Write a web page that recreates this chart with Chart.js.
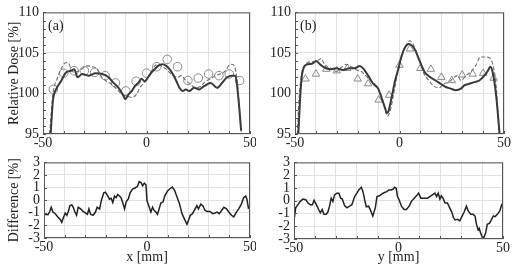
<!DOCTYPE html>
<html>
<head>
<meta charset="utf-8">
<script src="https://cdn.jsdelivr.net/npm/chart.js@4.4.1/dist/chart.umd.min.js"></script>
<style>
  body { margin: 0; background: #fff; width: 512px; height: 265px; position: relative; overflow: hidden; }
  canvas { position: absolute; }
</style>
</head>
<body>
<canvas id="ta" style="left:0;top:0" width="256" height="150"></canvas>
<canvas id="tb" style="left:256px;top:0" width="256" height="150"></canvas>
<canvas id="ba" style="left:0;top:150px" width="256" height="115"></canvas>
<canvas id="bb" style="left:256px;top:150px" width="256" height="115"></canvas>
<script>
// tick labels shown on the x axes
var xTickLabels = [-50, 0, 50];

// (a) profile along x
var aSolidX = [-46.3,-45.2,-43.7,-41.3,-38.9,-36.5,-34.9,-33.3,-31,-27.8,-24.6,-21.4,-18.3,-15.9,-13.5,-11.1,-10.3,-8.7,-7.1,-5.6,-4,-2.4,-0.8,0.8,2.4,4,5.6,7.9,9.5,11.1,12.7,14.3,15.9,17.5,19,20.6,23,25.4,27.8,31,34.1,36.5,38.9,41.3,42.9,43.7,44.9,45.7];
var aSolidY = [95,99.1,100.5,101.5,102.6,102.8,103,102,102.4,102.2,102.5,102.4,102,101.3,100.7,99.7,99.3,99.9,100.3,100.9,101.3,101.8,101.5,102,102.6,103,103.4,103.6,103.4,103,102.4,101.6,100.7,100.3,100.5,100.3,100.7,100.5,100.9,101.3,100.7,101.3,102,102.2,102.2,101.1,98,95.4];
var aDashX = [-46.8,-45.2,-42.9,-40.5,-38.9,-37.3,-36.5,-34.9,-32.5,-30.2,-28.6,-26.2,-23.8,-22.2,-19.8,-16.7,-14.3,-11.9,-9.5,-7.1,-4.8,-3.2,-0.8,1.6,4,5.6,7.1,9.5,11.1,12.7,15.1,16.7,19,21.4,23.8,26.2,28.6,31,33.3,35.7,38.1,39.7,41.3,42.9,44,45.2,46];
var aDashY = [95,99.9,102,103.4,103.8,103.6,103,102.6,102.8,103.2,103.4,103.3,103,102.2,101.6,101.1,100.5,99.9,99.7,99.5,99.9,100.7,101.5,102.4,103.4,103.6,103.4,103,102.6,102.2,102,102.2,101.6,101.1,100.7,100.9,101.5,101.8,102.2,102.4,102.8,103.4,103.6,103,101.1,97.1,95];

// measured points, both panels
var measX = [-45,-40,-35,-30,-25,-20,-15,-10,-5,0,5,10,15,20,25,30,35,40,45];
var aMeas = [100.5,102.5,102.8,102.8,102.6,102.2,101.3,100.3,101.5,102.5,103.3,104.2,103.3,101.6,101.9,102.4,102.2,102.4,101.6];
var bMeas = [101.8,102.4,103,102.8,103.1,101.8,101.2,99.2,99.8,103.5,105.5,103.1,103,102,101.6,102.3,102.4,102.5,101.9];

// (b) profile along y
var bSolidX = [-48.4,-47.6,-46.8,-45.6,-44,-41.6,-40,-37.6,-35.2,-32.7,-30.3,-27.1,-23.9,-21.5,-19,-17.4,-15,-12.6,-10.2,-8.5,-6.9,-6.1,-5.3,-3.7,-2.1,-0.5,1.1,2.7,4.4,6,7.6,9.2,10.8,12.4,14.8,17.3,19.7,22.1,24.5,26.9,29.4,31,33.4,35.8,38.2,40.6,42.3,43.4,44.7,46.3,47.9];
var bSolidY = [95,99.2,102,103.3,103.6,103.7,104,103.5,103.1,103,103.1,102.9,103.1,103.1,103.4,103.1,102.2,101.2,100.6,99.4,98.2,97.6,97.8,99.6,101.6,103.1,104.7,105.7,106.1,105.9,105.3,104.3,103.3,102.5,102,101.6,101.2,100.8,100.6,100.4,100.6,101,101.2,101.4,101.6,102.2,102.8,103.3,102.5,99.6,95];
var bDashX = [-48.9,-48.1,-46.8,-45.2,-42.4,-40,-37.6,-35.2,-32.7,-30.3,-27.9,-25.5,-23.1,-20.6,-18.2,-15.8,-13.4,-11,-8.5,-6.9,-5.8,-4.5,-2.9,-1.3,0.3,1.9,3.5,4.8,6.5,8.1,10,11.6,14,16.5,18.9,21.3,23.7,26.1,27.7,29.4,31.8,34.2,36.6,38.7,40.6,43,44.7,46.3,47.6];
var bDashY = [95,99.2,102.5,103.5,103.9,103.9,104.3,103.3,103.1,102.7,103.2,103.6,103.3,102.9,102.7,102.1,101.5,100.9,99.6,98,97.2,97.8,99.8,102,103.9,105.3,106.1,106.5,106.1,105.1,103.7,102.5,101.6,100.9,100.7,101.2,101.4,102,102.2,101.6,102.2,102.7,103.5,104.5,104.5,104.4,103.5,100.8,95];

// differences
var diffAX = [-50,-48.1,-47.3,-46.5,-45.7,-44.5,-43.3,-42.2,-41.4,-40.6,-39.7,-38.9,-38.2,-37.4,-36.5,-35.8,-35,-34.2,-33.4,-32.2,-31,-29.8,-28.9,-28.2,-27.4,-26.2,-25,-24.2,-23,-22.2,-21,-20.2,-19,-18.2,-17.4,-16.6,-15.8,-15,-14.2,-13.4,-12.6,-11.8,-10.9,-10.1,-9,-8.2,-7,-5.8,-4.6,-3.8,-2.9,-2.1,-1.3,-0.5,0,1.1,1.9,2.7,3.5,4.3,5.1,5.9,6.7,7.8,8.6,9.9,11,12.3,13.4,14.7,15.8,17,18.2,19.4,20.2,21,22.1,22.9,24.2,25,26.1,27.1,28.2,29.3,30.6,31.9,33,34.1,35.1,36.2,37.3,38.6,39.7,41,42.1,43.4,44.5,45.8,46.9,47.9,48.5,49.3];
var diffAY = [-1.12,-1.15,-0.94,-0.56,-0.94,-1.07,-1.33,-1.5,-1.76,-1.4,-1.02,-1.2,-0.89,-0.43,-0.38,-0.56,-0.94,-1.2,-0.56,-0.69,-0.89,-1.02,-1.12,-0.69,-1.12,-1.2,-0.94,-0.56,-0.69,-0.05,0.59,0.64,0.33,0.08,0.15,-0.18,0.33,0.2,0.46,0.33,0.2,-0.18,-0.69,-0.13,0.13,0.59,0.89,0.97,1.1,1.48,1.4,1.15,1.35,1.22,-0.05,-0.56,-0.94,-0.56,-0.82,-0.94,-1.12,-0.69,-0.23,-0.13,0.33,0.71,0.89,1.05,0.79,0.2,-0.31,-1.07,-1.5,-1.91,-1.58,-1.2,-1.07,-0.82,-0.43,-0.69,-0.31,-0.43,-0.82,-0.89,-0.89,-1.07,-1.02,-0.94,-1.07,-0.82,-0.56,-0.69,-0.94,-1.2,-1.33,-0.94,-0.69,-0.31,0.2,0.33,0.08,-0.69];
var diffBX = [-50,-49.2,-48.1,-47,-45.7,-44.4,-43.3,-42.2,-41.2,-40.4,-39.3,-38.2,-37.4,-36.5,-35.7,-34.6,-33.8,-33,-32.2,-31.4,-30.6,-29.5,-28.5,-27.7,-26.9,-25.8,-24.7,-23.4,-22.3,-21,-19.9,-19,-17.8,-17,-16.2,-15.4,-14.3,-13.4,-12.3,-11.1,-10.3,-9.1,-7.9,-6.7,-5.6,-4.6,-3.5,-2.7,-1.9,-1.1,-0.5,0.3,1.4,2.7,3.8,5.1,6.2,7.5,8.6,9.6,10.7,12.3,13.9,15.1,16.2,17.4,18.2,19,19.8,20.5,21.3,22.3,23.4,24.5,25.5,26.3,27.1,28.2,29.3,30.3,31.4,32.5,33.4,34.6,35.7,36.6,37.3,38.1,38.6,39.3,40.1,40.9,41.7,42.5,43.6,44.6,45.4,46.2,47.3,48.4,49.4,50];
var diffBY = [-1.58,-0.56,-0.31,-0.05,0.13,0.08,-0.18,-0.31,-0.31,0.03,-0.31,-0.69,-0.94,-0.69,-1.07,-1.07,-0.89,-0.43,0.2,-0.05,0.46,0.59,0.59,0.2,0.13,-0.38,-0.56,-0.43,-0.31,0.33,0.59,0.84,1.05,0.71,0.08,-0.48,-0.43,-0.74,-1.2,-0.56,0.33,0.38,0.54,0.64,0.71,0.84,0.84,0.89,1.05,0.97,0.33,0.08,-0.43,-0.69,-0.69,-0.43,-0.05,0.2,0.38,0.59,0.2,0.2,0.2,0.33,0.46,0.59,0.33,0.59,0.13,0.38,0.2,-0.18,-0.18,-0.56,-0.89,-1.33,-1.5,-1.45,-1.58,-1.25,-0.89,-0.43,-0.82,-1.07,-1.07,-1.2,-1.84,-2.27,-2.17,-2.53,-2.86,-2.86,-2.53,-1.84,-1.76,-1.45,-1.2,-1.25,-1.07,-0.82,-0.31,-0.18];

var font = { family: '"Liberation Serif", "Times New Roman", serif', size: 14 };
var ink = '#222';

function pts(xs, ys) {
    return xs.map(function (x, i) { return { x: x, y: ys[i] }; });
}

// closes the box, adds the inward tick marks and the panel letter
var frame = {
    id: 'frame',
    afterDraw: function (chart, args, opts) {
        var ctx = chart.ctx, a = chart.chartArea, sx = chart.scales.x, sy = chart.scales.y;
        ctx.save();
        ctx.strokeStyle = '#555';
        ctx.lineWidth = 1;
        ctx.strokeRect(a.left + 0.5, a.top + 0.5, a.right - a.left - 1, a.bottom - a.top - 1);
        ctx.beginPath();
        for (var v = sy.min; v <= sy.max; v += 1) {
            var py = Math.round(sy.getPixelForValue(v)) + 0.5;
            ctx.moveTo(a.left, py);
            ctx.lineTo(a.left + 3, py);
        }
        for (var u = -50; u <= 50; u += 10) {
            var px = Math.round(sx.getPixelForValue(u)) + 0.5;
            ctx.moveTo(px, a.bottom);
            ctx.lineTo(px, a.bottom - 3);
        }
        ctx.stroke();
        if (opts.label) {
            ctx.fillStyle = ink;
            ctx.font = '14px ' + font.family;
            ctx.textBaseline = 'middle';
            ctx.fillText(opts.label, a.left + 5, a.top + 14);
        }
        ctx.restore();
    }
};

function panel(id, datasets, o) {
    return new Chart(document.getElementById(id), {
        type: 'line',
        data: { datasets: datasets },
        options: {
            responsive: false,
            animation: false,
            layout: { padding: { top: 10, right: o.padRight, left: 0, bottom: 0 } },
            plugins: {
                legend: { display: false },
                tooltip: { enabled: false },
                frame: { label: o.label }
            },
            scales: {
                x: {
                    type: 'linear', min: -50, max: 50,
                    ticks: {
                        stepSize: 10, autoSkip: false, maxRotation: 0, padding: o.xPad,
                        color: ink, font: font,
                        callback: function (v) { return xTickLabels.indexOf(v) >= 0 ? String(v) : ''; }
                    },
                    grid: { color: '#e2e2e2', drawTicks: false },
                    border: { display: false },
                    title: { display: !!o.xTitle, text: o.xTitle || '', color: ink, font: font, padding: { top: 0, bottom: -1 } },
                    afterFit: function (s) { s.height = o.xH; s.paddingLeft = 0; s.paddingRight = 0; }
                },
                y: {
                    min: o.yMin, max: o.yMax,
                    ticks: { stepSize: o.yStep, autoSkip: false, padding: 4, color: ink, font: font },
                    grid: { color: '#e2e2e2', drawTicks: false },
                    border: { display: false },
                    title: { display: !!o.yTitle, text: o.yTitle || '', color: ink, font: font, padding: { top: 6, bottom: 0 } },
                    afterFit: function (s) { s.width = o.yW; }
                }
            }
        },
        plugins: [frame]
    });
}

function solid(xs, ys) {
    return { data: pts(xs, ys), borderColor: '#3a3a3a', borderWidth: 2, pointRadius: 0, cubicInterpolationMode: 'monotone', fill: false };
}
function dashed(xs, ys) {
    return { data: pts(xs, ys), borderColor: '#707070', borderWidth: 1.1, borderDash: [4, 2], pointRadius: 0, cubicInterpolationMode: 'monotone', fill: false };
}
function marks(ys, style) {
    return { data: pts(measX, ys), showLine: false, pointStyle: style, pointRadius: 4.3, pointBorderWidth: 1,
             pointBorderColor: '#8a8a8a', pointBackgroundColor: 'rgba(255,255,255,0)', borderColor: '#8a8a8a' };
}
function diff(xs, ys) {
    return { data: pts(xs, ys), borderColor: '#222', borderWidth: 1.5, pointRadius: 0, tension: 0, fill: false };
}

panel('ta', [solid(aSolidX, aSolidY), dashed(aDashX, aDashY), marks(aMeas, 'circle')],
      { label: '(a)', padRight: 6, xPad: 1, xH: 16, yMin: 95, yMax: 110, yStep: 5, yW: 43, yTitle: 'Relative Dose [%]' });
panel('tb', [solid(bSolidX, bSolidY), dashed(bDashX, bDashY), marks(bMeas, 'triangle')],
      { label: '(b)', padRight: 8, xPad: 1, xH: 16, yMin: 95, yMax: 110, yStep: 5, yW: 39 });
panel('ba', [diff(diffAX, diffAY)],
      { padRight: 6, xPad: 1, xH: 27, yMin: -3, yMax: 3, yStep: 1, yW: 44, yTitle: 'Difference [%]', xTitle: 'x [mm]' });
panel('bb', [diff(diffBX, diffBY)],
      { padRight: 9, xPad: 1, xH: 26, yMin: -3, yMax: 3, yStep: 1, yW: 38, xTitle: 'y [mm]' });
</script>
</body>
</html>
